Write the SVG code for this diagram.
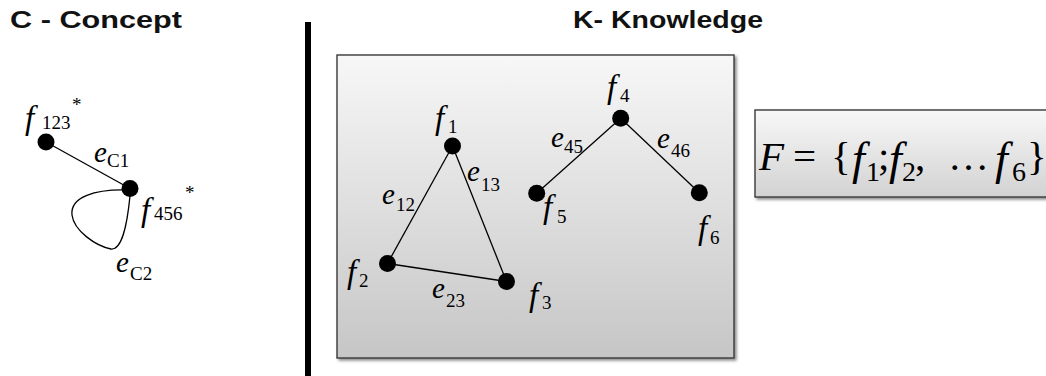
<svg xmlns="http://www.w3.org/2000/svg" width="1046" height="376" viewBox="0 0 1046 376">
<style>
.title{font-family:"Liberation Sans",Arial,sans-serif;font-weight:bold;font-size:24px;fill:#111}
.m{font-family:"Liberation Serif","Times New Roman",serif;font-style:italic;font-size:29px;fill:#000}
.f{font-size:33px}
.s{font-family:"Liberation Serif","Times New Roman",serif;font-style:normal;font-size:19px;fill:#000}
.fm{font-family:"Liberation Serif","Times New Roman",serif;font-size:41px;fill:#000}
.fi{font-style:italic}
.ff{font-size:46px}
.fs{font-size:28px}
.edge{stroke:#000;stroke-width:1.3;fill:none}
.node{fill:#000}
.box{stroke:#3a3a3a;stroke-width:1.4}
</style>
<defs>
<linearGradient id="g1" x1="0" y1="0" x2="0" y2="1">
<stop offset="0" stop-color="#f7f7f7"/>
<stop offset="1" stop-color="#c6c6c6"/>
</linearGradient>
<linearGradient id="g2" x1="0" y1="0" x2="0" y2="1">
<stop offset="0" stop-color="#f8f8f8"/>
<stop offset="1" stop-color="#d2d2d2"/>
</linearGradient>
<filter id="sh" x="-5%" y="-5%" width="110%" height="115%">
<feDropShadow dx="2" dy="2" stdDeviation="1.5" flood-color="#000" flood-opacity="0.45"/>
</filter>
</defs>
<rect width="1046" height="376" fill="#fff"/>

<text class="title" x="10" y="28" textLength="172" lengthAdjust="spacingAndGlyphs">C - Concept</text>
<text class="title" x="573" y="28" textLength="190" lengthAdjust="spacingAndGlyphs">K- Knowledge</text>

<rect x="305" y="22" width="6" height="360" fill="#000"/>

<rect id="kbox" class="box" x="337" y="55" width="397" height="303" fill="url(#g1)" filter="url(#sh)"/>
<rect id="fbox" class="box" x="755" y="110" width="300" height="87" fill="url(#g2)" filter="url(#sh)"/>

<g id="connectors">
<line class="edge" x1="46" y1="142" x2="130" y2="188.5"/>
<path class="edge" d="M128,190 C95,189 70,197 72,215 C74,231 96,246 111,249 C122,250 127,226 130,196"/>
<line class="edge" x1="452.5" y1="146" x2="387.5" y2="263.5"/>
<line class="edge" x1="452.5" y1="146" x2="506.5" y2="281.5"/>
<line class="edge" x1="387.5" y1="263.5" x2="506.5" y2="281.5"/>
<line class="edge" x1="620.7" y1="118.3" x2="536.7" y2="193.3"/>
<line class="edge" x1="620.7" y1="118.3" x2="699.3" y2="192.7"/>
</g>

<g id="n-f123"><circle class="node" cx="46" cy="142" r="8.5"/>
<text class="m f" x="25" y="129">f</text><text class="s" x="42" y="129">123</text><text class="s" x="72" y="111">*</text></g>
<g id="n-f456"><circle class="node" cx="130" cy="188.5" r="8.5"/>
<text class="m f" x="141" y="221">f</text><text class="s" x="154" y="220">456</text><text class="s" x="185" y="199">*</text></g>
<g id="l-eC1"><text class="m" x="94" y="162">e</text><text class="s" x="107" y="167">C1</text></g>
<g id="l-eC2"><text class="m" x="116" y="272">e</text><text class="s" x="130" y="280">C2</text></g>

<g id="n-f1"><circle class="node" cx="452.5" cy="146" r="8.5"/>
<text class="m f" x="435" y="129">f</text><text class="s" x="448" y="133">1</text></g>
<g id="n-f2"><circle class="node" cx="387.5" cy="263.5" r="8.5"/>
<text class="m f" x="347" y="283">f</text><text class="s" x="359" y="287">2</text></g>
<g id="n-f3"><circle class="node" cx="506.5" cy="281.5" r="8.5"/>
<text class="m f" x="529" y="306">f</text><text class="s" x="542" y="309">3</text></g>
<g id="n-f4"><circle class="node" cx="620.7" cy="118.3" r="8.5"/>
<text class="m f" x="607" y="98">f</text><text class="s" x="620" y="102">4</text></g>
<g id="n-f5"><circle class="node" cx="536.7" cy="193.3" r="8.5"/>
<text class="m f" x="543" y="218">f</text><text class="s" x="557" y="223">5</text></g>
<g id="n-f6"><circle class="node" cx="699.3" cy="192.7" r="8.5"/>
<text class="m f" x="698" y="239">f</text><text class="s" x="710" y="244">6</text></g>

<g id="l-e12"><text class="m" x="382" y="204">e</text><text class="s" x="396" y="211">12</text></g>
<g id="l-e13"><text class="m" x="467" y="181">e</text><text class="s" x="481" y="191">13</text></g>
<g id="l-e23"><text class="m" x="432" y="298">e</text><text class="s" x="446" y="307">23</text></g>
<g id="l-e45"><text class="m" x="551" y="147">e</text><text class="s" x="564" y="153">45</text></g>
<g id="l-e46"><text class="m" x="657" y="148">e</text><text class="s" x="671" y="157">46</text></g>

<g id="formula">
<text class="fm fi" x="759" y="170">F</text>
<text class="fm" x="793" y="170">=</text>
<text class="fm" x="831" y="170">{</text>
<text class="fm fi ff" x="852" y="174">f</text>
<text class="fm fs" x="866" y="181">1</text>
<text class="fm" x="878" y="170">;</text>
<text class="fm fi ff" x="889" y="174">f</text>
<text class="fm fs" x="902" y="181">2</text>
<text class="fm" x="915" y="170">,</text>
<text class="fm" x="948" y="170" font-size="35">…</text>
<text class="fm fi ff" x="995" y="174">f</text>
<text class="fm fs" x="1012" y="181">6</text>
<text class="fm" x="1027" y="170">}</text>
</g>
</svg>
